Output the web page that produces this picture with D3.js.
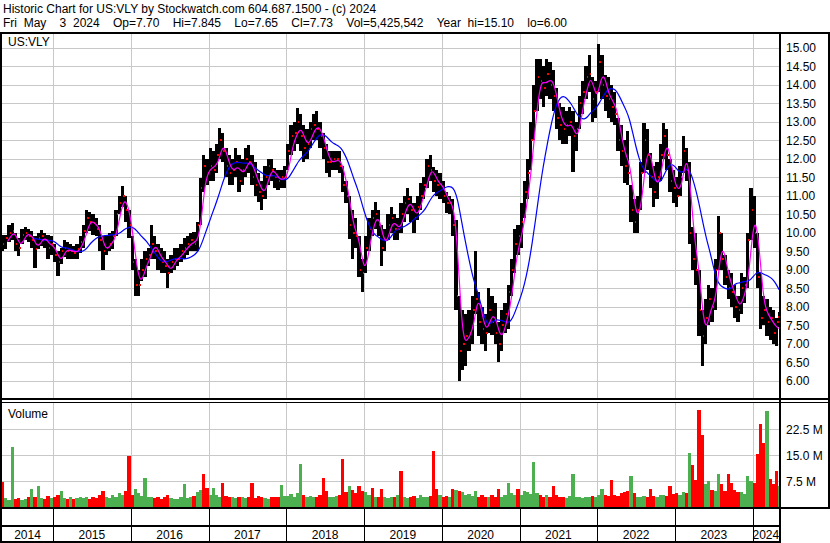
<!DOCTYPE html>
<html><head><meta charset="utf-8">
<script src="https://cdn.jsdelivr.net/npm/d3@7"></script>
<style>
body{margin:0;background:#fff}
svg{display:block}
text{font-family:"Liberation Sans",Arial,sans-serif;font-size:12px;fill:#000}
</style>
</head><body>
<svg id="chart" width="830" height="543"></svg>
<script>
// ---------------- DATA ----------------
const headerLine1 = "Historic Chart for US:VLY by Stockwatch.com 604.687.1500 - (c) 2024";
const headerLine2 = "Fri May  3 2024  Op=7.70  Hi=7.845  Lo=7.65  Cl=7.73  Vol=5,425,542  Year hi=15.10  lo=6.00";
const symbolLabel = "US:VLY";
const volumeLabel = "Volume";

// half-month periods (1st-15th, 16th-end), starting May 1 2014, ending May 3 2024
const firstYear = 2014, firstHalf = 8;
const lastDate = [2024, 4, 4];

const high = [
 /*2014*/ 9.95,9.95,10.2,10.25,10.0,9.85,10.1,10.15,10.1,10.05,9.9,10.0,10.06,10.0,9.95,9.9,
 /*2015*/ 9.7,9.5,9.6,9.8,9.75,9.7,9.65,9.7,9.9,10.2,10.6,10.55,10.5,10.4,10.2,9.9,9.9,10.0,10.05,10.6,11.0,11.25,11.0,10.6,
 /*2016*/ 9.9,9.3,9.0,9.3,9.5,9.6,10.2,9.9,9.7,9.6,9.5,9.3,9.4,9.6,9.6,9.7,9.86,9.9,10.0,10.03,10.3,11.47,12.1,12.0,
 /*2017*/ 12.3,12.2,12.4,12.82,12.7,12.3,12.1,12.0,12.3,12.1,12.0,12.3,12.36,12.1,11.9,11.6,11.4,11.8,12.0,12.0,11.74,11.7,11.7,11.8,
 /*2018*/ 12.4,12.9,13.0,13.36,13.2,12.9,12.8,13.0,13.2,13.3,13.0,12.7,12.4,12.2,12.2,12.2,12.2,11.8,11.4,11.0,10.6,10.4,9.9,9.3,
 /*2019*/ 9.9,10.4,10.6,10.84,10.6,10.2,10.1,10.5,10.7,10.5,10.4,10.8,11.0,11.2,11.0,10.8,11.0,11.34,11.5,12.0,12.1,11.78,11.7,11.6,
 /*2020*/ 11.4,11.1,11.0,10.9,10.34,8.3,7.9,7.8,7.9,8.3,9.5,8.4,8.0,7.8,8.5,8.3,8.1,7.6,7.9,8.1,8.6,9.3,10.1,10.2,
 /*2021*/ 10.8,11.4,12.0,13.0,14.0,14.7,14.7,14.5,14.7,14.6,14.4,13.9,13.5,13.4,13.3,13.4,13.3,13.0,13.7,14.1,14.5,14.8,14.2,14.1,
 /*2022*/ 15.1,14.8,14.25,14.2,14.0,13.8,13.1,12.9,12.5,12.76,11.3,10.9,11.0,11.9,12.95,12.8,12.15,11.8,11.9,12.4,12.95,12.8,12.0,11.7,
 /*2023*/ 11.5,11.8,12.6,12.3,11.9,10.15,10.0,9.0,7.9,8.2,8.6,8.5,9.3,10.45,10.0,9.4,9.0,8.9,8.6,8.3,8.9,8.8,10.0,11.2,
 /*2024*/ 11.0,10.0,8.9,8.3,8.2,8.0,7.9,7.7,7.85
];
const low = [
 /*2014*/ 9.5,9.55,9.75,9.8,9.5,9.38,9.7,9.8,9.75,9.6,9.05,9.55,9.65,9.6,9.3,9.4,
 /*2015*/ 9.2,8.83,9.15,9.35,9.3,9.3,9.3,9.3,9.45,9.6,10.0,10.05,9.95,9.9,9.5,9.0,9.4,9.5,9.55,9.9,10.5,10.7,10.3,9.85,
 /*2016*/ 9.0,8.28,8.3,8.7,8.8,9.1,9.3,9.3,9.0,8.9,8.9,8.5,8.9,9.0,9.1,9.2,9.3,9.4,9.5,9.5,9.5,10.2,11.1,11.3,
 /*2017*/ 11.4,11.4,11.6,12.0,11.9,11.5,11.3,11.3,11.5,11.1,11.3,11.5,11.6,11.3,11.0,10.84,10.61,10.9,11.3,11.4,11.2,11.15,11.2,11.2,
 /*2018*/ 11.7,12.1,12.2,12.4,12.2,11.9,12.0,12.3,12.5,12.5,12.3,12.0,11.6,11.5,11.7,11.7,11.6,11.1,10.8,9.83,9.3,9.6,8.8,8.41,
 /*2019*/ 8.9,9.5,9.9,10.1,9.9,9.1,9.5,9.8,10.0,9.8,9.8,10.0,10.3,10.5,10.3,10.0,10.34,10.6,10.9,11.2,11.4,11.1,11.0,10.9,
 /*2020*/ 10.8,10.52,10.5,9.9,7.9,6.0,6.3,6.4,6.8,7.0,7.8,7.2,7.0,6.8,7.3,7.25,7.0,6.5,6.8,7.3,7.4,8.3,8.9,9.4,
 /*2021*/ 9.6,10.4,10.9,11.7,12.5,13.3,13.6,13.4,13.7,13.6,13.3,12.8,12.5,12.4,12.4,12.6,11.65,12.2,12.8,13.2,13.6,13.8,13.0,13.1,
 /*2022*/ 13.8,13.6,13.3,13.1,13.0,12.9,12.2,11.8,11.35,11.3,10.3,10.0,10.0,10.6,11.6,11.7,11.2,10.7,10.9,11.4,12.0,11.7,11.1,10.8,
 /*2023*/ 10.7,11.0,11.6,11.4,9.7,9.0,8.6,7.2,6.4,7.0,7.5,7.6,7.9,9.0,9.0,8.6,8.2,8.0,7.7,7.6,7.8,8.1,8.5,9.8,
 /*2024*/ 9.6,8.5,7.4,7.5,7.2,7.1,7.0,6.95,7.45
];
const close = [
 /*2014*/ 9.7,9.85,10.0,10.05,9.7,9.6,9.95,10.0,9.9,9.8,9.55,9.85,9.9,9.8,9.6,9.7,
 /*2015*/ 9.4,9.2,9.5,9.6,9.5,9.5,9.45,9.55,9.75,10.05,10.4,10.3,10.25,10.1,9.8,9.5,9.6,9.7,9.9,10.5,10.8,11.0,10.6,10.2,
 /*2016*/ 9.2,8.6,8.6,9.0,9.3,9.4,9.7,9.5,9.3,9.2,9.1,8.9,9.2,9.3,9.3,9.5,9.6,9.7,9.8,9.7,10.2,11.2,11.8,11.6,
 /*2017*/ 11.8,11.7,12.1,12.5,12.2,11.8,11.6,11.7,11.9,11.4,11.7,12.0,11.9,11.5,11.3,11.1,11.0,11.5,11.8,11.7,11.5,11.4,11.5,11.5,
 /*2018*/ 12.2,12.6,12.7,13.0,12.6,12.3,12.4,12.8,12.9,12.8,12.6,12.3,11.9,11.9,12.0,12.0,11.8,11.3,11.0,10.2,10.0,9.9,9.0,8.9,
 /*2019*/ 9.6,10.1,10.4,10.5,10.2,9.6,9.8,10.2,10.4,10.1,10.1,10.5,10.8,10.9,10.6,10.4,10.7,11.0,11.3,11.8,11.7,11.4,11.3,11.3,
 /*2020*/ 11.0,10.8,10.8,10.2,8.3,6.8,7.0,7.2,7.3,7.9,8.2,7.6,7.4,7.3,7.9,7.6,7.3,7.0,7.5,7.8,8.4,9.0,9.7,9.9,
 /*2021*/ 10.3,11.1,11.6,12.5,13.3,14.2,14.1,13.9,14.3,14.0,13.7,13.1,12.9,12.8,12.9,13.0,12.6,12.8,13.5,13.8,14.2,14.3,13.6,13.8,
 /*2022*/ 14.6,14.0,13.7,13.6,13.4,13.2,12.5,12.2,11.8,11.6,10.6,10.3,10.6,11.6,12.5,12.1,11.5,11.1,11.5,12.1,12.6,12.1,11.4,11.2,
 /*2023*/ 11.0,11.5,12.2,11.7,10.0,9.3,9.0,7.9,7.2,7.7,8.2,8.0,9.0,10.0,9.3,8.8,8.5,8.4,8.0,7.9,8.5,8.6,9.8,10.6,
 /*2024*/ 10.0,8.8,7.7,7.9,7.6,7.7,7.3,7.6,7.73
];
// peak daily volume in each half month, millions of shares
const volume = [
 /*2014*/ 7.3,2.5,2.0,17.3,2.2,2.6,2.0,2.4,2.8,5.1,3.0,6.0,2.5,2.4,3.2,2.6,
 /*2015*/ 3.0,3.4,4.5,2.6,2.4,2.8,2.2,2.6,3.0,2.5,2.8,2.4,3.0,2.6,3.4,4.5,2.8,2.6,3.5,3.0,4.0,3.5,4.5,14.6,
 /*2016*/ 3.5,5.3,4.0,3.2,8.3,3.0,2.8,2.6,3.0,2.4,2.8,3.4,2.6,2.4,2.2,3.0,6.6,2.6,2.8,3.2,4.2,5.0,9.6,5.6,
 /*2017*/ 3.6,5.6,3.4,3.0,6.9,3.2,2.8,3.0,2.6,3.0,2.8,2.6,3.0,6.9,2.6,3.2,2.8,2.6,2.4,3.0,2.8,3.0,6.4,3.2,
 /*2018*/ 3.2,3.8,3.0,4.0,12.3,3.4,3.0,3.2,2.8,3.0,3.6,8.4,4.7,3.0,2.8,3.2,3.4,13.8,4.2,6.0,4.8,4.0,6.0,4.6,
 /*2019*/ 4.2,3.5,5.6,3.0,2.8,5.3,3.0,2.6,2.8,3.0,3.4,10.3,3.0,2.6,2.8,3.2,2.6,3.6,2.8,3.0,3.2,16.2,5.2,3.6,
 /*2020*/ 3.0,3.2,3.0,5.3,5.0,4.5,4.2,3.6,3.8,3.2,4.5,3.0,3.4,2.8,3.0,3.6,2.8,5.2,3.0,3.4,6.8,4.0,3.6,5.3,
 /*2021*/ 3.4,4.5,4.2,3.8,12.9,4.0,3.4,3.0,3.6,3.0,6.2,3.4,3.0,2.8,2.6,3.2,9.5,3.0,2.8,2.6,3.0,2.8,3.2,3.0,
 /*2022*/ 3.4,5.2,3.6,3.2,7.8,3.4,3.2,4.0,4.4,4.6,8.8,4.0,3.0,2.8,3.2,3.0,5.3,3.2,3.0,3.4,3.6,3.2,6.0,3.8,
 /*2023*/ 4.0,3.6,4.4,4.0,15.6,12.0,7.8,28.1,20.7,6.5,7.6,5.0,4.6,9.4,6.5,4.6,9.4,7.0,4.8,4.4,4.2,3.8,9.0,7.6,
 /*2024*/ 7.0,15.4,24.0,18.4,27.8,8.0,6.5,10.3,6.0
];
// volume bar colour: g = up, r = down, . = follow the close
const volumeColour = (
 "r..g.....g.g...." +
 "..g....................r" +
 ".g..g...........g.....r." +
 ".g..r........r........g." +
 "....g......rr....r.g..r." +
 "..r..r.....r.........rr." +
 "...rg............r..g..r" +
 ".g..g.....r.....g......." +
 ".g..r.....g.....r.....r." +
 "....grrrr....g..rr....g." +
 ".rrrgr.rg").split("");

const priceTicks = [6.00,6.50,7.00,7.50,8.00,8.50,9.00,9.50,10.00,10.50,11.00,11.50,12.00,12.50,13.00,13.50,14.00,14.50,15.00];
const volumeTicks = [7.5, 15.0, 22.5];
const volumeTickLabels = ["7.5 M", "15.0 M", "22.5 M"];
const yearLabels = ["2014","2015","2016","2017","2018","2019","2020","2021","2022","2023","2024"];
const maShortDays = 28;   // ~20 trading days
const maLongDays = 145;   // ~100 trading days

// ---------------- BUILD ----------------
function periodStart(k){
  const m = firstHalf + k, yr = firstYear + Math.floor(m/24), h = m % 24;
  return new Date(Date.UTC(yr, Math.floor(h/2), h % 2 ? 16 : 1));
}
const endDate = new Date(Date.UTC(lastDate[0], lastDate[1], lastDate[2]));
const bars = high.map((h, k) => ({
  start: periodStart(k),
  end: k + 1 < high.length ? periodStart(k + 1) : endDate,
  hi: h, lo: low[k], cl: close[k], vol: volume[k],
  typ: (h + low[k] + close[k]) / 3
}));
bars.forEach((b, k) => {
  const c = volumeColour[k];
  b.up = c === "g" ? true : c === "r" ? false : (k === 0 ? true : b.cl >= bars[k-1].cl);
});

const svg = d3.select("#chart");
const L = 2, R = 779, PT = 34, PB = 398, VT = 403, VB = 507;
const x = d3.scaleUtc()
  .domain([new Date(Date.UTC(2014,4,1)), endDate])
  .range([0.8, 779.1]);
const y = d3.scaleLinear().domain([6, 15]).range([380.8, 47.6]);
const yv = d3.scaleLinear().domain([0, 30]).range([VB, VT]);
const yearStarts = yearLabels.slice(1).map(s => new Date(Date.UTC(+s, 0, 1)));

const day = 86400000;
function movingAverage(days){
  const first = bars[0].start.getTime();
  const out = [];
  bars.forEach(b => {
    const t1 = b.end.getTime(), t0 = t1 - days * day;
    if (t0 < first) return;
    let s = 0;
    bars.forEach(o => {
      const ov = Math.min(o.end.getTime(), t1) - Math.max(o.start.getTime(), t0);
      if (ov > 0) s += ov * o.typ;
    });
    out.push({t: b.end, v: s / (t1 - t0)});
  });
  return out;
}

// clip paths
const defs = svg.append("defs");
defs.append("clipPath").attr("id","pclip").append("rect").attr("x",L).attr("y",PT).attr("width",R-L).attr("height",PB-PT);
defs.append("clipPath").attr("id","vclip").append("rect").attr("x",L).attr("y",VT).attr("width",R-L).attr("height",VB-VT);

// header (keep the double spaces; the second line spans to x≈567 like the reference)
const keepSpaces = s => s.replace(/  /g, " \u00a0");
svg.append("text").attr("x",3).attr("y",13).text(keepSpaces(headerLine1));
const h2 = svg.append("text").attr("x",3).attr("y",27).text(keepSpaces(headerLine2));
{
  const w = h2.node().getComputedTextLength();
  const nSpaces = (headerLine2.match(/ /g) || []).length;
  const target = 564;
  if (w < target) h2.style("word-spacing", ((target - w) / nSpaces).toFixed(2) + "px");
}

// grids
const grid = svg.append("g").attr("stroke","#c8c8c8").attr("stroke-width",1).attr("shape-rendering","crispEdges");
grid.selectAll(".hp").data(priceTicks).join("line")
  .attr("x1",L).attr("x2",R).attr("y1",d=>Math.round(y(d))+0.5).attr("y2",d=>Math.round(y(d))+0.5);
grid.selectAll(".hv").data(volumeTicks).join("line").attr("class","hv")
  .attr("x1",L).attr("x2",R).attr("y1",d=>Math.round(yv(d))+0.5).attr("y2",d=>Math.round(yv(d))+0.5);
grid.selectAll(".vp").data(yearStarts).join("line").attr("class","vp")
  .attr("x1",d=>Math.round(x(d))+0.5).attr("x2",d=>Math.round(x(d))+0.5).attr("y1",PT).attr("y2",PB);
grid.selectAll(".vv").data(yearStarts).join("line").attr("class","vv")
  .attr("x1",d=>Math.round(x(d))+0.5).attr("x2",d=>Math.round(x(d))+0.5).attr("y1",VT).attr("y2",VB);

// price bars
const pg = svg.append("g").attr("clip-path","url(#pclip)");
pg.append("g").attr("shape-rendering","crispEdges").selectAll("rect").data(bars).join("rect")
  .attr("x",d=>x(d.start)).attr("width",d=>Math.max(1, x(d.end)-x(d.start)))
  .attr("y",d=>y(d.hi)).attr("height",d=>y(d.lo)-y(d.hi)).attr("fill","#000");
pg.append("g").attr("shape-rendering","crispEdges").selectAll("rect").data(bars).join("rect")
  .attr("x",d=>x(d.end)-1).attr("width",1.5)
  .attr("y",d=>y(d.cl)-1).attr("height",2).attr("fill","#ff0000");

// moving averages
const maLine = d3.line().x(d=>x(d.t)).y(d=>y(d.v)).curve(d3.curveBasis);
pg.append("path").datum(movingAverage(maLongDays)).attr("d",maLine)
  .attr("fill","none").attr("stroke","#0000ff").attr("stroke-width",1.2);
pg.append("path").datum(movingAverage(maShortDays)).attr("d",maLine)
  .attr("fill","none").attr("stroke","#ff00ff").attr("stroke-width",1.2);

// volume bars
svg.append("g").attr("clip-path","url(#vclip)").attr("shape-rendering","crispEdges")
  .selectAll("rect").data(bars).join("rect")
  .attr("x",d=>x(d.start)).attr("width",d=>Math.max(1, x(d.end)-x(d.start)))
  .attr("y",d=>yv(d.vol)).attr("height",d=>yv(0)-yv(d.vol))
  .attr("fill",d=>d.up ? "#4cb050" : "#ff0000");

// labels in panels
svg.append("text").attr("x",8).attr("y",46).text(symbolLabel);
svg.append("text").attr("x",8).attr("y",418).text(volumeLabel);

// right axis labels
svg.append("g").selectAll("text").data(priceTicks).join("text")
  .attr("x",786).attr("y",d=>y(d)+4.5).text(d=>d.toFixed(2));
svg.append("g").selectAll("text").data(volumeTicks).join("text")
  .attr("x",786).attr("y",d=>yv(d)+4.5).text((d,i)=>volumeTickLabels[i]);

// frame
const fr = svg.append("g").attr("fill","#000").attr("shape-rendering","crispEdges");
fr.append("rect").attr("x",0).attr("y",32).attr("width",830).attr("height",2);
fr.append("rect").attr("x",0).attr("y",32).attr("width",2).attr("height",511);
fr.append("rect").attr("x",779).attr("y",32).attr("width",2).attr("height",511);
fr.append("rect").attr("x",828).attr("y",32).attr("width",2).attr("height",477);
fr.append("rect").attr("x",0).attr("y",398).attr("width",830).attr("height",2);
fr.append("rect").attr("x",0).attr("y",402).attr("width",830).attr("height",1);
fr.append("rect").attr("x",0).attr("y",507).attr("width",830).attr("height",2);
fr.append("rect").attr("x",0).attr("y",525).attr("width",781).attr("height",2);
fr.append("rect").attr("x",0).attr("y",541).attr("width",781).attr("height",2);
fr.selectAll(".yd").data(yearStarts).join("rect").attr("class","yd")
  .attr("x",d=>Math.round(x(d))).attr("y",509).attr("width",1).attr("height",32);

// year labels
const bounds = [L].concat(yearStarts.map(d=>x(d))).concat([R]);
svg.append("g").selectAll("text").data(yearLabels).join("text")
  .attr("x",(d,i)=>(bounds[i]+bounds[i+1])/2).attr("y",539).attr("text-anchor","middle").text(d=>d);
</script>
</body></html>
